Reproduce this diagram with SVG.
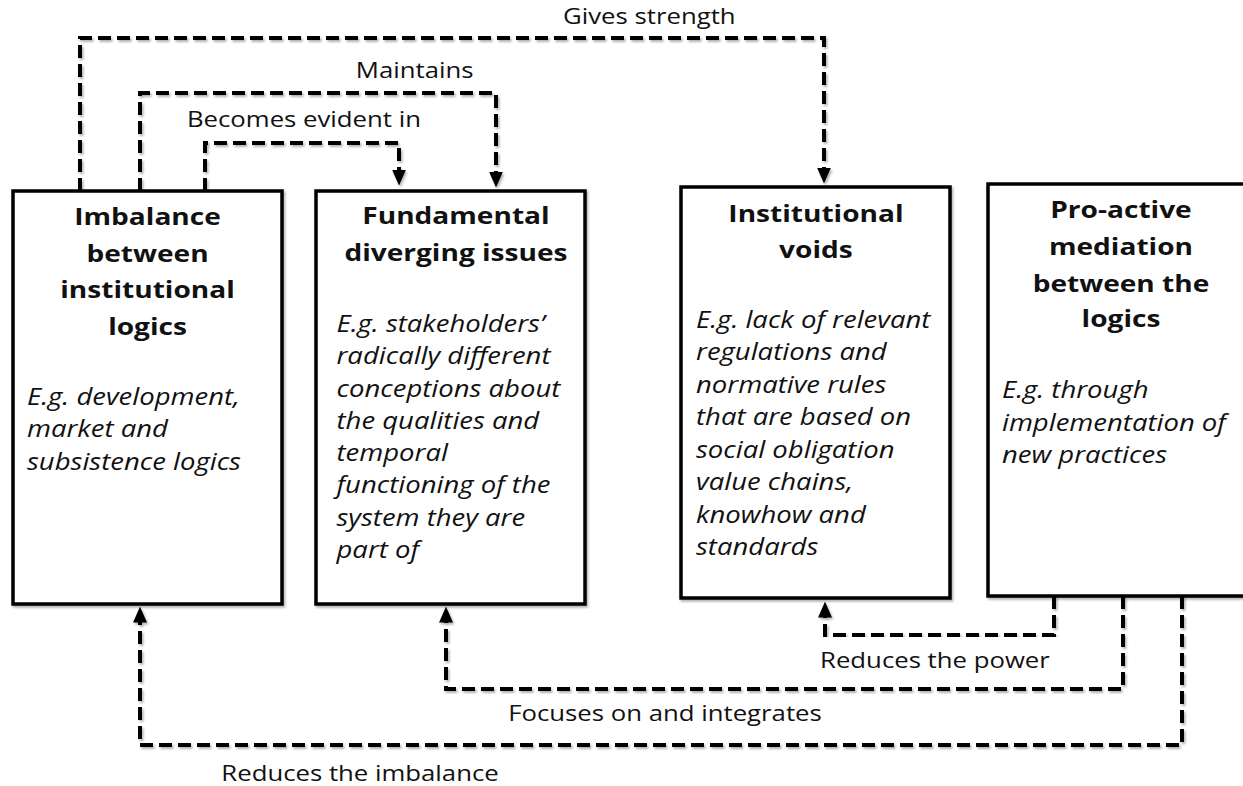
<svg xmlns="http://www.w3.org/2000/svg" width="1243" height="786" viewBox="0 0 1243 786">
<style>
.box{fill:#fff;stroke:#000;stroke-width:3.5;filter:url(#sh)}
.conn{fill:none;stroke:#000;stroke-width:4;stroke-dasharray:13 6;marker-end:url(#ah);filter:url(#sh)}
.title{font-family:"Open Sans","Liberation Sans",sans-serif;font-weight:bold;font-size:24px;fill:#111;text-anchor:middle}
.body{font-family:"Open Sans","Liberation Sans",sans-serif;font-style:italic;font-size:23.5px;fill:#111}
.lab{font-family:"Open Sans","Liberation Sans",sans-serif;font-size:22px;fill:#111;text-anchor:middle}
</style>
<defs>
<filter id="sh" x="-5%" y="-5%" width="110%" height="110%">
<feDropShadow dx="1.5" dy="2" stdDeviation="1.2" flood-color="#000" flood-opacity="0.3"/>
</filter>
<marker id="ah" viewBox="0 0 16 14" markerWidth="16" markerHeight="14" refX="0.5" refY="7" orient="auto" markerUnits="userSpaceOnUse">
<path d="M0,0 L16,7 L0,14 z" fill="#000"/>
</marker>
</defs>
<rect width="1243" height="786" fill="#fff"/>

<g id="connectors">
<path class="conn" d="M80,191 V38 H824 V168"/>
<path class="conn" d="M140,191 V93 H496 V172"/>
<path class="conn" d="M205,191 V143 H399 V170"/>
<path class="conn" d="M1054,596 V635 H825 V617"/>
<path class="conn" d="M1123,596 V689 H446 V622"/>
<path class="conn" d="M1182,596 V745 H140 V622"/>
</g>

<g id="labels" transform="scale(1.17 1)">
<text class="lab" x="555" y="24">Gives strength</text>
<text class="lab" x="354.4" y="78">Maintains</text>
<text class="lab" x="259.8" y="127">Becomes evident in</text>
<text class="lab" x="799.1" y="668">Reduces the power</text>
<text class="lab" x="568.4" y="721">Focuses on and integrates</text>
<text class="lab" x="307.7" y="781">Reduces the imbalance</text>
</g>

<g id="node-imbalance">
<rect class="box" x="13" y="191" width="269" height="413"/>
<g transform="scale(1.17 1)">
<text class="title" x="126.1" y="225">Imbalance</text>
<text class="title" x="126.1" y="261.7">between</text>
<text class="title" x="126.1" y="298.3">institutional</text>
<text class="title" x="126.1" y="335">logics</text>
<text class="body" x="23.1" y="405">E.g. development,</text>
<text class="body" x="23.1" y="437.5">market and</text>
<text class="body" x="23.1" y="470">subsistence logics</text>
</g>
</g>

<g id="node-fundamental">
<rect class="box" x="316" y="191" width="269" height="413"/>
<g transform="scale(1.17 1)">
<text class="title" x="389.7" y="224.3">Fundamental</text>
<text class="title" x="389.7" y="261">diverging issues</text>
<text class="body" x="287.6" y="332">E.g. stakeholders’</text>
<text class="body" x="287.6" y="364.3">radically different</text>
<text class="body" x="287.6" y="396.6">conceptions about</text>
<text class="body" x="287.6" y="428.9">the qualities and</text>
<text class="body" x="287.6" y="461.2">temporal</text>
<text class="body" x="287.6" y="493.5">functioning of the</text>
<text class="body" x="287.6" y="525.8">system they are</text>
<text class="body" x="287.6" y="558">part of</text>
</g>
</g>

<g id="node-voids">
<rect class="box" x="681" y="187" width="269" height="411"/>
<g transform="scale(1.17 1)">
<text class="title" x="697.4" y="221.7">Institutional</text>
<text class="title" x="697.4" y="258.3">voids</text>
<text class="body" x="594.9" y="328">E.g. lack of relevant</text>
<text class="body" x="594.9" y="360.5">regulations and</text>
<text class="body" x="594.9" y="393">normative rules</text>
<text class="body" x="594.9" y="425.5">that are based on</text>
<text class="body" x="594.9" y="458">social obligation</text>
<text class="body" x="594.9" y="490.5">value chains,</text>
<text class="body" x="594.9" y="523">knowhow and</text>
<text class="body" x="594.9" y="555.5">standards</text>
</g>
</g>

<g id="node-mediation">
<rect class="box" x="988" y="184" width="275" height="412"/>
<g transform="scale(1.17 1)">
<text class="title" x="958.1" y="218.3">Pro-active</text>
<text class="title" x="958.1" y="255">mediation</text>
<text class="title" x="958.1" y="291.7">between the</text>
<text class="title" x="958.1" y="326.7">logics</text>
<text class="body" x="856.4" y="398.3">E.g. through</text>
<text class="body" x="856.4" y="430.7">implementation of</text>
<text class="body" x="856.4" y="462.7">new practices</text>
</g>
</g>
</svg>
